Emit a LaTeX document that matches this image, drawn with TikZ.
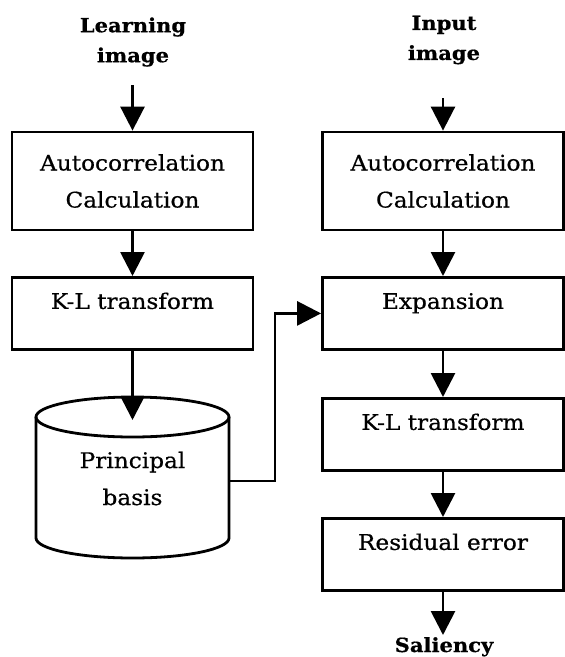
\documentclass[tikz,border=0pt]{standalone}
\usepackage{fontspec}
\setmainfont{DejaVu Serif}[FakeStretch=1.08, FakeBold=0.6]
\usetikzlibrary{arrows.meta}
\begin{document}
\begin{tikzpicture}[x=1pt,y=-1pt,
  line width=2.8pt,
  flow/.style={-{Triangle[length=24pt,width=24pt]}},
  boxfont/.style={font=\fontsize{21.5}{37}\selectfont},
  twoline/.style={draw, inner sep=0pt, minimum width=241pt, minimum height=98pt,
    align=center, boxfont},
  oneline/.style={draw, inner sep=0pt, minimum width=241pt, text height=31.5pt,
    text depth=40.5pt, boxfont},
  head/.style={align=center, font=\fontsize{19.5}{30}\selectfont\bfseries}]
\useasboundingbox (0,0) rectangle (565,657);

% headings
\node[head] (lh) at (133,42) {Learning\\image};
\node[head] (rh) at (444,40) {Input\\image};
\node[head, anchor=base] (sal) at (444,652) {Saliency};

% left column
\node[twoline] (la) at (132.5,181) {Autocorrelation\\Calculation};
\node[oneline, anchor=north] (lk) at (132.5,276) {K-L transform};

% right column
\node[twoline] (ra) at (443,181) {Autocorrelation\\Calculation};
\node[oneline, anchor=north] (re) at (443,276) {Expansion};
\node[oneline, anchor=north] (rk) at (443,397) {K-L transform};
\node[oneline, anchor=north] (rr) at (443,517) {Residual error};

% principal basis store
\draw (132.5,417) ellipse [x radius=96.5, y radius=20];
\draw (36,417) -- (36,538) arc[start angle=180, end angle=0, x radius=96.5, y radius=20] -- (229,417);
\node[align=center, boxfont] (pb) at (132.5,478.5) {Principal\\basis};

% connector end points
\coordinate (lin) at (132.5,85);
\coordinate (rin) at (443,98);
\coordinate (cyltop) at (132.5,420);
\coordinate (cylout) at (229,481);
\coordinate (salin) at (443,635);

% connectors
\draw[flow] (lin) -- (la.north);
\draw[flow] (la.south) -- (lk.north);
\draw[flow] (lk.south) -- (cyltop);
\draw[flow] (rin) -- (ra.north);
\draw[flow] (ra.south) -- (re.north);
\draw[flow] (re.south) -- (rk.north);
\draw[flow] (rk.south) -- (rr.north);
\draw[flow] (rr.south) -- (salin);
\draw[flow] (cylout) -- ++(46,0) |- (re.west);
\end{tikzpicture}
\end{document}
